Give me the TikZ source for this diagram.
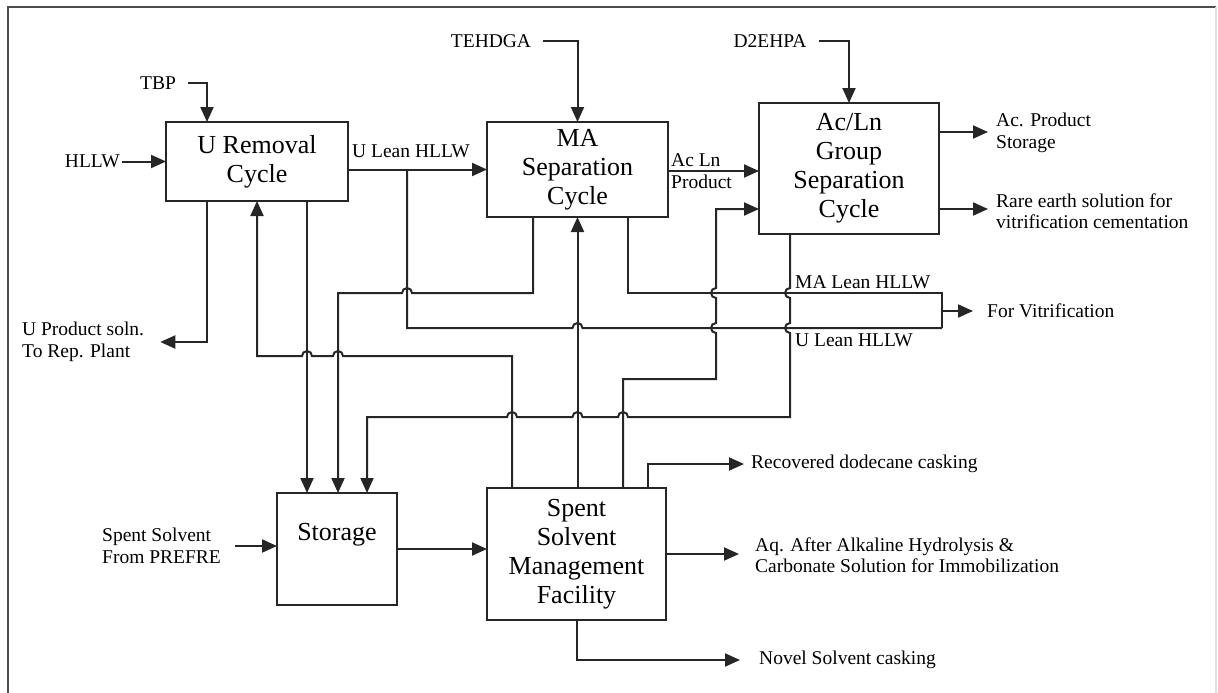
\documentclass[tikz,border=0pt]{standalone}
\usepackage{fontspec}
\setmainfont{Liberation Serif}
\usetikzlibrary{arrows.meta,positioning,calc}
\newcommand{\boxfont}{\fontsize{26}{29}\selectfont}
\newcommand{\lblfont}{\fontsize{19.5}{21.5}\selectfont}

\begin{document}
\begin{tikzpicture}[
    x=1pt, y=-1pt,
    blk/.style={draw=black!85, line width=2pt, align=center, font=\boxfont, inner sep=0pt, outer sep=0pt},
    lbl/.style={font=\lblfont, align=left, inner sep=2pt},
    arr/.style={-{Triangle[length=15pt,width=13pt]}, line width=2pt, draw=black!85},
    ln/.style={line width=2pt, draw=black!85}
]
\useasboundingbox (0,0) rectangle (1218,693);
\draw[line width=1.5pt, black!70] (8,693) -- (8,7) -- (1216,7);
\draw[line width=1.2pt, black!12] (1216,7) -- (1216,693);

% process blocks
\node[blk, minimum width=182pt, minimum height=79pt] (urc) at (257,161.5) {U Removal\\Cycle};
\node[blk, minimum width=181pt, minimum height=95pt, right=139pt of urc, yshift=-8pt] (mas) {MA\\Separation\\Cycle};
\node[blk, minimum width=180pt, minimum height=131pt, right=91pt of mas, yshift=1pt] (acl) {Ac/Ln\\Group\\Separation\\Cycle};
\node[blk, minimum width=179pt, minimum height=132pt, below=271pt of mas, xshift=-1pt] (ssm) {Spent\\Solvent\\Management\\Facility};
\node[blk, minimum width=120pt, minimum height=112pt, left=90pt of ssm, yshift=5pt] (sto) {};
\node[font=\boxfont] (stot) at ($(sto.north)+(0,42)$) {Storage};

% feeds
\node[lbl] (tbp) at (158,83) {TBP};
\node[lbl, left=44pt of urc] (hllw) {HLLW};
\node[lbl] (teh) at (491,41) {TEHDGA};
\node[lbl] (d2e) at (770,41) {D2EHPA};
\draw[arr] ([xshift=10pt]tbp.east) -| (urc.north -| 207,0);
\draw[arr] (hllw.east) -- (urc.west);
\draw[arr] ([xshift=10pt]teh.east) -| (mas.north);
\draw[arr] ([xshift=10pt]d2e.east) -| (acl.north);

% U lean HLLW to MA
\draw[arr] (urc.east |- mas.west) -- (mas.west);
\node[lbl, anchor=west] (ulh) at (350,151) {U Lean HLLW};

% Ac Ln product
\draw[arr] (mas.east |- 0,171) -- (acl.west |- 0,171);
\node[lbl, anchor=west] (alp) at (669,171) {Ac Ln\\Product};

% Ac/Ln outputs
\node[lbl, anchor=west] (acp) at (994,133) {Ac. Product\\Storage};
\node[lbl, anchor=west] (res) at (994,211) {Rare earth solution for\\vitrification cementation};
\draw[arr] (acl.east |- 0,132) -- ([xshift=-6pt]acp.west |- 0,132);
\draw[arr] (acl.east |- 0,209) -- ([xshift=-6pt]res.west |- 0,209);

% lean streams to vitrification
\coordinate (ubr) at (407,169.5);
\coordinate (vtop) at (942,293);
\coordinate (vbot) at (942,328);
\coordinate (vmid) at (942,311);
\node[lbl, right=43pt of vmid] (vit) {For Vitrification};
\node[lbl, anchor=west] (mal) at (793,282) {MA Lean HLLW};
\node[lbl, anchor=west] (ull) at (793,340) {U Lean HLLW};
\draw[ln] (mas.south -| 628,0) |- (vtop) -- (vbot);
\draw[ln] (ubr) -- (407,328) -- (572.5,328) arc[start angle=180,end angle=0,radius=5pt] -- (vbot);
\draw[arr] (vmid) -- ([xshift=-12pt]vit.west);

% returns to storage
\draw[arr] (mas.south -| 533,0) -- (533,293) -- (412,293) arc[start angle=0,end angle=180,radius=5pt] -- (338,293) -- (sto.north -| 338,0);
\draw[arr] (urc.south -| 307,0) -- (sto.north -| 307,0);
\draw[arr] (acl.south -| 790,0) -- (790,288) arc[start angle=90,end angle=270,radius=5pt]
    -- (790,323) arc[start angle=90,end angle=270,radius=5pt] -- (790,417)
    -- (628,417) arc[start angle=0,end angle=180,radius=5pt]
    -- (582.5,417) arc[start angle=0,end angle=180,radius=5pt]
    -- (517,417) arc[start angle=0,end angle=180,radius=5pt]
    -- (367,417) -- (sto.north -| 367,0);

% U product
\node[lbl, anchor=west] (upr) at (20,342) {U Product soln.\\To Rep. Plant};
\draw[arr] (urc.south -| 207,0) |- ([xshift=14pt]upr.east);

% storage in/out
\node[lbl, anchor=west] (spf) at (100,546) {Spent Solvent\\From PREFRE};
\draw[arr] ([xshift=12pt]spf.east) -- (spf.east -| sto.west);
\draw[arr] (sto.east) -- (sto.east -| ssm.west);

% recycled solvent
\draw[arr] (ssm.north -| 512,0) -- (512,356) -- (343,356) arc[start angle=0,end angle=180,radius=5pt]
    -- (312,356) arc[start angle=0,end angle=180,radius=5pt] -- (urc.south |- 0,356) -- (urc.south);
\draw[arr] (ssm.north -| mas.south) -- (mas.south);
\coordinate (acin) at (acl.west |- 0,209);
\draw[arr] (ssm.north -| 623,0) -- (623,379) -- (716,379)
    -- (716,333) arc[start angle=270,end angle=90,radius=5pt]
    -- (716,298) arc[start angle=270,end angle=90,radius=5pt] -- (716,209) -- (acin);

% SSMF outputs
\node[lbl, anchor=west] (rdc) at (749,464) {Recovered dodecane casking};
\node[lbl, right=87pt of ssm, yshift=-1pt] (aqh) {Aq. After Alkaline Hydrolysis \&\\Carbonate Solution for Immobilization};
\node[lbl, anchor=west] (nov) at (757,660) {Novel Solvent casking};
\draw[arr] (ssm.north -| 648,0) |- ([xshift=-5pt]rdc.west);
\draw[arr] (ssm.east) -- ([xshift=-14pt]ssm.east -| aqh.west);
\draw[arr] (ssm.south) |- ([xshift=-17pt]nov.west);
\end{tikzpicture}
\end{document}
